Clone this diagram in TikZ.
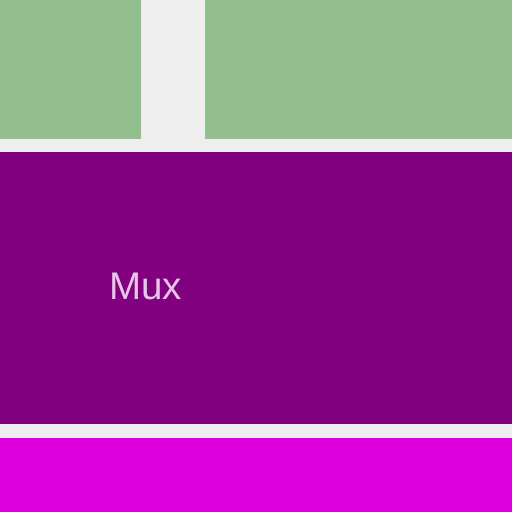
\documentclass[tikz,border=0pt]{standalone}
\usepackage{fontspec}
\setmainfont{Liberation Sans}
\definecolor{bg}{HTML}{EEEEEE}
\definecolor{grn}{HTML}{93BF8F}
\definecolor{pur}{HTML}{800080}
\definecolor{mag}{HTML}{DD00DD}
\definecolor{txt}{HTML}{E8C6E8}
\begin{document}
\begin{tikzpicture}[x=1pt,y=-1pt]
\useasboundingbox[fill=bg] (0,0) rectangle (512,512);
\fill[grn] (0,0) rectangle (141,139);
\fill[grn] (205,0) rectangle (512,139);
\fill[pur] (0,152) rectangle (512,424);
\fill[mag] (0,438) rectangle (512,512);
\node[anchor=base, inner sep=0, text=txt, font=\fontsize{38.5}{42}\selectfont] (mux) at (145.5,299) {Mux};
\end{tikzpicture}
\end{document}
